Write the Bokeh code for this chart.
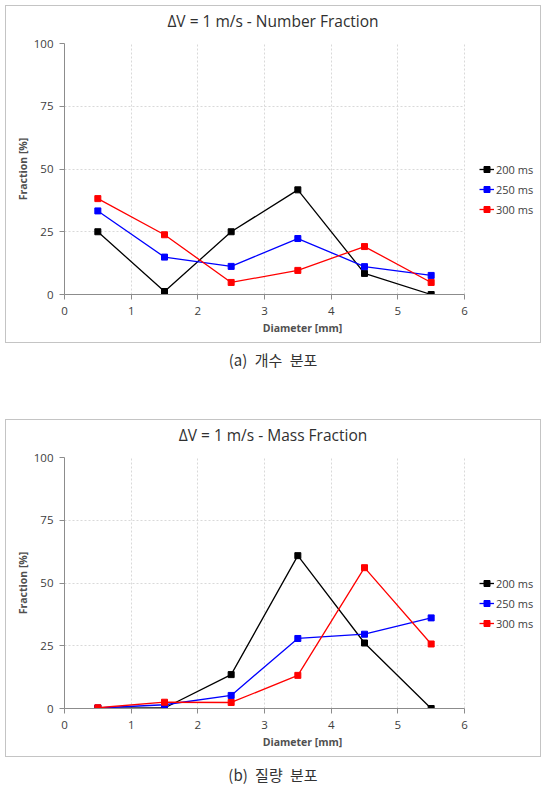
from bokeh.plotting import figure
from bokeh.models import Range1d, Legend, LegendItem, Div, FixedTicker, Grid
from bokeh.layouts import column
from bokeh.embed import file_html
from bokeh.resources import INLINE

# ---- data ----
diameter = [0.5, 1.5, 2.5, 3.5, 4.5, 5.5]
series_names = ["200 ms", "250 ms", "300 ms"]
number_200 = [25.0, 1.2, 25.0, 41.7, 8.4, 0.0]
number_250 = [33.3, 14.9, 11.2, 22.3, 11.1, 7.6]
number_300 = [38.2, 23.8, 4.8, 9.6, 19.1, 4.8]
mass_200 = [0.1, 0.2, 13.5, 60.9, 26.1, 0.0]
mass_250 = [0.2, 1.5, 5.2, 27.9, 29.6, 36.1]
mass_300 = [0.3, 2.5, 2.4, 13.2, 56.1, 25.7]
x_ticks = [0, 1, 2, 3, 4, 5, 6]
y_ticks = [0, 25, 50, 75, 100]
titles = ["\u0394V = 1 m/s - Number Fraction", "\u0394V = 1 m/s - Mass Fraction"]
captions = ["(a) 개수 분포", "(b) 질량 분포"]
x_label = "Diameter [mm]"
y_label = "Fraction [%]"

colors = ["#000000", "#0000ff", "#ff0000"]
FONT = "Open Sans"
X_MAX = 6
X_VIEW_MAX = 6 * 476 / 400   # frame continues to the right to hold the legend


def make_panel(title, ys):
    head = Div(text=f'<div style="width:534px;text-align:center;line-height:30px;'
                    f'font-family:\'Open Sans\';font-size:15.5px;color:#303030;">{title}</div>',
               width=534, height=30, margin=0)
    p = figure(width=534, height=306, output_backend="svg", toolbar_location=None,
               x_range=Range1d(0, X_VIEW_MAX), y_range=Range1d(0, 100),
               min_border_left=58, min_border_right=0, min_border_top=7, min_border_bottom=48,
               title=None, margin=0)
    p.outline_line_color = None

    for ax in (p.xaxis[0], p.yaxis[0]):
        ax.axis_line_color = "#8c8c8c"
        ax.major_tick_line_color = "#8c8c8c"
        ax.major_tick_out = 5
        ax.major_tick_in = 0
        ax.minor_tick_line_color = None
        ax.major_label_text_font = FONT
        ax.major_label_text_font_size = "11.5px"
        ax.major_label_text_color = "#404040"
        ax.axis_label_text_font = FONT
        ax.axis_label_text_font_size = "10.5px"
        ax.axis_label_text_font_style = "bold"
        ax.axis_label_text_color = "#505050"
    p.xaxis.ticker = FixedTicker(ticks=x_ticks)
    p.yaxis.ticker = FixedTicker(ticks=y_ticks)
    p.xaxis.bounds = (0, X_MAX)
    p.xaxis.axis_label = x_label
    p.yaxis.axis_label = y_label
    p.xaxis.major_label_standoff = 7
    p.xaxis.axis_label_standoff = 3
    p.yaxis.major_label_standoff = 6
    p.yaxis.axis_label_standoff = 1

    p.xgrid.grid_line_color = "#d9d9d9"
    p.ygrid.grid_line_color = "#d9d9d9"
    p.xgrid.grid_line_dash = "2 2"
    p.ygrid.grid_line_dash = "2 2"
    if "cross_bounds" in Grid.properties():
        p.ygrid.cross_bounds = (0, X_MAX)

    items = []
    for name, y, c in zip(series_names, ys, colors):
        r1 = p.line(diameter, y, line_color=c, line_width=1.3)
        r2 = p.scatter(diameter, y, marker="square", size=6, fill_color=c, line_color=c)
        items.append(LegendItem(label=name, renderers=[r1, r2]))
    leg = Legend(items=items, location=(415, 75), glyph_width=15, glyph_height=20,
                 label_height=20, spacing=0, padding=0, margin=0, label_standoff=2,
                 background_fill_alpha=0, border_line_alpha=0,
                 label_text_font=FONT, label_text_font_size="11px", label_text_color="#404040")
    p.add_layout(leg, "center")
    return column(head, p, spacing=0, styles={"border": "1px solid #c4c4c4"})


def caption(text, height, pad):
    return Div(text=f'<div style="width:536px;text-align:center;font-family:\'Noto Sans CJK KR\';'
                    f'font-size:15px;word-spacing:4px;color:#333;padding-top:{pad}px;">{text}</div>',
               width=536, height=height, margin=0)


panel1 = make_panel(titles[0], [number_200, number_250, number_300])
panel2 = make_panel(titles[1], [mass_200, mass_250, mass_300])
layout = column(panel1, caption(captions[0], 76, 6), panel2, caption(captions[1], 22, 7), spacing=0,
                styles={"margin-left": "5px", "margin-top": "5px"})

open("out.html", "w").write(file_html(layout, INLINE))
